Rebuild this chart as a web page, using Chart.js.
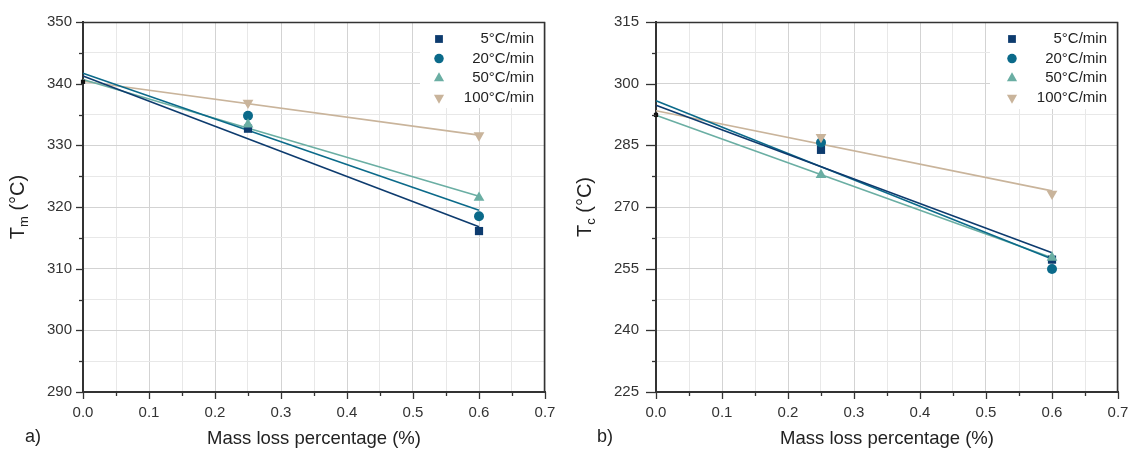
<!DOCTYPE html>
<html>
<head>
<meta charset="utf-8">
<script src="https://cdn.jsdelivr.net/npm/chart.js@4.4.1/dist/chart.umd.min.js"></script>
<style>
  html, body { margin: 0; padding: 0; background: #fff; }
  #wrap { position: relative; width: 1129px; height: 453px; }
  canvas { position: absolute; top: 0; }
</style>
</head>
<body>
<div id="wrap">
  <canvas id="chartA" width="565" height="453" style="left:0"></canvas>
  <canvas id="chartB" width="564" height="453" style="left:565px"></canvas>
</div>
<script>
// dados
const massLoss = [0, 0.25, 0.6];
const rates = ['5°C/min', '20°C/min', '50°C/min', '100°C/min'];

// a) Tm
const tm5 = [340.3, 332.7, 316.1];
const tm20 = [340.3, 334.8, 318.5];
const tm50 = [340.3, 333.4, 321.5];
const tm100 = [340.3, 336.9, 331.6];

// b) Tc
const tc5 = [292.4, 283.9, 257.2];
const tc20 = [292.4, 285.7, 254.9];
const tc50 = [292.4, 277.8, 257.7];
const tc100 = [292.4, 287.0, 273.2];

const colors = ['#0d3b6e', '#0b6a8a', '#6aaea3', '#c9b49b'];
const shapes = ['rect', 'circle', 'triangle', 'triangle'];
const rotations = [0, 0, 0, 180];
const radii = [5.8, 5, 6.2, 6.2];

const FONT = '"Liberation Sans", Arial, sans-serif';

// ajuste linear (mínimos quadrados), como na figura original
function linFit(xs, ys) {
    const n = xs.length;
    const mx = xs.reduce((a, b) => a + b, 0) / n;
    const my = ys.reduce((a, b) => a + b, 0) / n;
    let sxy = 0, sxx = 0;
    xs.forEach((x, i) => { sxy += (x - mx) * (ys[i] - my); sxx += (x - mx) * (x - mx); });
    const slope = sxy / sxx;
    return { slope, icpt: my - slope * mx };
}

function buildDatasets(series) {
    const ds = [];
    series.forEach((ys, i) => {
        const f = linFit(massLoss, ys);
        const x0 = massLoss[0], x1 = massLoss[massLoss.length - 1];
        ds.push({
            type: 'line',
            data: [{ x: x0, y: f.icpt + f.slope * x0 }, { x: x1, y: f.icpt + f.slope * x1 }],
            borderColor: colors[i], borderWidth: 1.6, pointRadius: 0, order: 10, clip: false
        });
        // séries posteriores ficam por cima (order menor = desenhado depois)
        ds.push({
            type: 'scatter',
            data: massLoss.slice(1).map((x, k) => ({ x: x, y: ys[k + 1] })),
            backgroundColor: colors[i], borderWidth: 0,
            pointStyle: shapes[i], rotation: rotations[i], pointRadius: radii[i], order: 5 - i, clip: false
        });
    });
    // ponto comum em 0 % (pequeno marcador preto)
    ds.push({
        type: 'scatter', data: [{ x: massLoss[0], y: series[0][0] }],
        backgroundColor: '#111', borderWidth: 0, pointStyle: 'rect', pointRadius: 3, order: 0, clip: false
    });
    return ds;
}

// plugin para molduras, ticks, títulos e legenda
const decorPlugin = {
    id: 'decor',
    beforeDatasetsDraw(chart, args, opts) {
        const c = chart.ctx, a = chart.chartArea;
        c.save();
        c.fillStyle = '#fff';
        c.fillRect(opts.legendLeft, a.top + 1, a.right - opts.legendLeft - 1, opts.legendBottom - a.top);
        c.restore();
    },
    afterDraw(chart, args, opts) {
        const c = chart.ctx, a = chart.chartArea;
        const xs = chart.scales.x, ys = chart.scales.y;
        c.save();
        c.strokeStyle = '#333';
        c.lineWidth = 1.3;
        xs.ticks.forEach((t, i) => {
            const p = Math.round(xs.getPixelForValue(t.value)) + 0.5;
            const len = i % 2 === 0 ? 7 : 4;
            c.beginPath(); c.moveTo(p, a.bottom); c.lineTo(p, a.bottom + len); c.stroke();
        });
        ys.ticks.forEach((t, i) => {
            const p = Math.round(ys.getPixelForValue(t.value)) + 0.5;
            const len = i % 2 === 0 ? opts.yTick : 4;
            c.beginPath(); c.moveTo(a.left - len, p); c.lineTo(a.left, p); c.stroke();
        });
        // moldura superior e direita
        c.lineWidth = 1.5;
        c.beginPath();
        c.moveTo(a.left, a.top + 0.5); c.lineTo(a.right - 0.5, a.top + 0.5); c.lineTo(a.right - 0.5, a.bottom);
        c.stroke();

        // título eixo x
        c.fillStyle = '#222';
        c.font = '18.5px ' + FONT;
        c.textAlign = 'center'; c.textBaseline = 'middle';
        c.fillText('Mass loss percentage (%)', (a.left + a.right) / 2, 439);

        // letra do painel
        c.font = '18px ' + FONT;
        c.textAlign = 'left';
        c.fillText(opts.panel, opts.panelX, 437);

        // título eixo y com subscrito
        c.save();
        c.translate(opts.yTitleX, (a.top + a.bottom) / 2);
        c.rotate(-Math.PI / 2);
        const big = '20px ' + FONT, small = '13px ' + FONT;
        c.font = big; const wT = c.measureText('T').width; const wR = c.measureText(' (°C)').width;
        c.font = small; const wS = c.measureText(opts.sub).width;
        let x = -(wT + wS + wR) / 2;
        c.textAlign = 'left'; c.textBaseline = 'middle';
        c.font = big; c.fillText('T', x, 0); x += wT;
        c.font = small; c.fillText(opts.sub, x, 6); x += wS;
        c.font = big; c.fillText(' (°C)', x, 0);
        c.restore();

        // legenda
        rates.forEach((r, i) => {
            const y = 39 + i * 19.6;
            c.fillStyle = colors[i];
            Chart.helpers.drawPoint(c, { pointStyle: shapes[i], rotation: rotations[i], radius: radii[i] * 0.95, borderWidth: 0 }, opts.legendMarkX, y);
            c.fillStyle = '#222';
            c.font = '15px ' + FONT;
            c.textAlign = 'right'; c.textBaseline = 'middle';
            c.fillText(r, opts.legendTextX, y);
        });
        c.restore();
    }
};

function makeChart(id, series, yMin, yMax, yStep, yWidth, yPad, padRight, decor) {
    return new Chart(document.getElementById(id), {
        data: { datasets: buildDatasets(series) },
        options: {
            responsive: false,
            animation: false,
            layout: { padding: { top: 22, right: padRight, left: 0, bottom: 0 } },
            plugins: { legend: { display: false }, tooltip: { enabled: false }, decor: decor },
            scales: {
                x: {
                    type: 'linear', min: 0, max: 0.7,
                    afterFit: s => { s.height = 61; s.paddingLeft = 0; s.paddingRight = 0; },
                    ticks: {
                        stepSize: 0.05, autoSkip: false, maxRotation: 0, padding: 12,
                        color: '#333', font: { family: FONT, size: 15 },
                        callback: (v, i) => i % 2 === 0 ? v.toFixed(1) : ''
                    },
                    grid: { drawTicks: false, color: ctx => ctx.index % 2 === 0 ? '#d3d3d3' : '#e8e8e8', lineWidth: 1 },
                    border: { color: '#333', width: 2 }
                },
                y: {
                    type: 'linear', min: yMin, max: yMax,
                    afterFit: s => { s.width = yWidth; s.paddingTop = 0; s.paddingBottom = 0; },
                    ticks: {
                        stepSize: yStep, autoSkip: false, padding: yPad,
                        color: '#333', font: { family: FONT, size: 15 },
                        callback: (v, i) => i % 2 === 0 ? String(Math.round(v)) : ''
                    },
                    grid: { drawTicks: false, color: ctx => ctx.index % 2 === 0 ? '#d3d3d3' : '#e8e8e8', lineWidth: 1 },
                    border: { color: '#333', width: 2 }
                }
            }
        },
        plugins: [decorPlugin]
    });
}

makeChart('chartA', [tm5, tm20, tm50, tm100], 290, 350, 5, 83, 11, 20, {
    panel: 'a)', panelX: 25, sub: 'm', yTitleX: 18, yTick: 7,
    legendLeft: 420, legendBottom: 107, legendMarkX: 439, legendTextX: 534
});
makeChart('chartB', [tc5, tc20, tc50, tc100], 225, 315, 7.5, 91, 17, 11, {
    panel: 'b)', panelX: 32, sub: 'c', yTitleX: 20, yTick: 10,
    legendLeft: 425, legendBottom: 108, legendMarkX: 447, legendTextX: 542
});
</script>
</body>
</html>
